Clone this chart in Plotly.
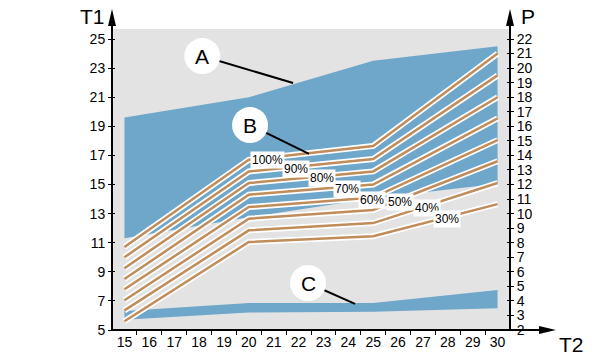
import numpy as np
import plotly.graph_objects as go

# ---------------- data ----------------
t2 = [15, 20, 25, 30]

area_a_top = [19.6, 21.0, 23.5, 24.5]
area_a_bottom = [11.3, 12.75, 14.05, 15.05]

area_c_top = [6.3, 6.85, 6.85, 7.75]
area_c_bottom = [5.7, 6.2, 6.25, 6.5]

line_names = ["100%", "90%", "80%", "70%", "60%", "50%", "40%", "30%"]
line_100 = [10.7, 16.7, 17.65, 24.0]
line_90 = [10.0, 15.9, 16.75, 22.5]
line_80 = [9.25, 15.1, 15.9, 21.0]
line_70 = [8.5, 14.3, 15.0, 19.55]
line_60 = [7.8, 13.45, 14.1, 18.05]
line_50 = [7.05, 12.65, 13.25, 16.6]
line_40 = [6.35, 11.85, 12.35, 15.1]
line_30 = [5.6, 11.05, 11.45, 13.65]
lines = [line_100, line_90, line_80, line_70, line_60, line_50, line_40, line_30]
label_x = [20.74, 21.9, 22.94, 23.94, 24.95, 26.07, 27.15, 27.96]

t1_ticks = [5, 7, 9, 11, 13, 15, 17, 19, 21, 23, 25]
p_ticks = list(range(2, 23))
t2_ticks = list(range(15, 31))
t2_minor = [v + 0.5 for v in range(15, 30)]

# ---------------- style ----------------
FONT = "Liberation Sans, Arial, Helvetica, sans-serif"
BLUE = "rgb(111,167,202)"
GRAY = "rgb(227,227,227)"
BROWN = "rgb(192,140,90)"

W, H = 615, 360
ML, MR, MT, MB = 112, 105, 29, 30
PW, PH = W - ML - MR, H - MT - MB
T1_RANGE = [5, 25.69]
P_RANGE = [2, 22.69]
T2_RANGE = [14.5, 30.5]

fig = go.Figure()

# area A
fig.add_trace(go.Scatter(
    x=t2 + t2[::-1], y=area_a_top + area_a_bottom[::-1],
    fill="toself", fillcolor=BLUE, line=dict(width=0), mode="lines",
    hoverinfo="skip", showlegend=False))
# area C
fig.add_trace(go.Scatter(
    x=t2 + t2[::-1], y=area_c_top + area_c_bottom[::-1],
    fill="toself", fillcolor=BLUE, line=dict(width=0), mode="lines",
    hoverinfo="skip", showlegend=False))

for ys in lines:
    fig.add_trace(go.Scatter(x=t2, y=ys, mode="lines",
                             line=dict(color="white", width=6),
                             hoverinfo="skip", showlegend=False))
    fig.add_trace(go.Scatter(x=t2, y=ys, mode="lines",
                             line=dict(color=BROWN, width=2.5),
                             hoverinfo="skip", showlegend=False))

# empty traces so that the helper axes get drawn
fig.add_trace(go.Scatter(x=[None], y=[None], yaxis="y2", showlegend=False))
fig.add_trace(go.Scatter(x=[None], y=[None], yaxis="y3", showlegend=False))
fig.add_trace(go.Scatter(x=[None], y=[None], yaxis="y4", showlegend=False))
fig.add_trace(go.Scatter(x=[None], y=[None], xaxis="x2", showlegend=False))

annotations = []
for name, ys, lx in zip(line_names, lines, label_x):
    ly = float(np.interp(lx, t2, ys))
    annotations.append(dict(x=lx, y=ly, text=name, showarrow=False,
                            bgcolor="white", borderpad=1, yshift=-2,
                            font=dict(family=FONT, size=12, color="black")))

# callouts
callouts = [("A", 18.13, 23.83, 21.78, 21.98),
            ("B", 20.05, 19.09, 22.42, 17.1),
            ("C", 22.38, 8.23, 24.27, 6.8)]
shapes = []
for letter, cx, cy, ex, ey in callouts:
    shapes.append(dict(type="line", x0=cx, y0=cy, x1=ex, y1=ey,
                       xref="x", yref="y", line=dict(color="black", width=2)))
for letter, cx, cy, ex, ey in callouts:
    shapes.append(dict(type="circle", xref="x", yref="y",
                       xsizemode="pixel", ysizemode="pixel",
                       xanchor=cx, yanchor=cy, x0=-18, x1=18, y0=-18, y1=18,
                       fillcolor="white", line=dict(width=0)))
    annotations.append(dict(x=cx, y=cy, text=letter, showarrow=False,
                            font=dict(family=FONT, size=21, color="black")))


def px(xp):
    return (xp - ML) / PW


def py(yp):
    return (MT + PH - yp) / PH


# axes with arrows
axis_col = "black"
shapes += [
    dict(type="line", xref="paper", yref="paper", x0=px(112), x1=px(112),
         y0=py(331), y1=py(20), line=dict(color=axis_col, width=2)),
    dict(type="path", xref="paper", yref="paper",
         path=f"M {px(108)},{py(26)} L {px(112)},{py(9)} L {px(116)},{py(26)} Z",
         fillcolor=axis_col, line=dict(width=0)),
    dict(type="line", xref="paper", yref="paper", x0=px(510), x1=px(510),
         y0=py(331), y1=py(20), line=dict(color=axis_col, width=2)),
    dict(type="path", xref="paper", yref="paper",
         path=f"M {px(506)},{py(26)} L {px(510)},{py(9)} L {px(514)},{py(26)} Z",
         fillcolor=axis_col, line=dict(width=0)),
    dict(type="line", xref="paper", yref="paper", x0=px(111), x1=px(545),
         y0=py(330), y1=py(330), line=dict(color=axis_col, width=2)),
    dict(type="path", xref="paper", yref="paper",
         path=f"M {px(539)},{py(326)} L {px(556)},{py(330)} L {px(539)},{py(334)} Z",
         fillcolor=axis_col, line=dict(width=0)),
]

title_font = dict(family=FONT, size=21, color="black")
annotations += [
    dict(xref="paper", yref="paper", x=px(92), y=py(17), text="T1",
         xanchor="center", yanchor="middle", showarrow=False, font=title_font),
    dict(xref="paper", yref="paper", x=px(528), y=py(17), text="P",
         xanchor="center", yanchor="middle", showarrow=False, font=title_font),
    dict(xref="paper", yref="paper", x=px(571), y=py(344), text="T2",
         xanchor="center", yanchor="middle", showarrow=False, font=title_font),
]

tickfont = dict(family=FONT, size=14, color="black")
common = dict(showgrid=False, zeroline=False, showline=False,
              tickcolor="black", tickwidth=1)
fig.update_layout(
    width=W, height=H,
    margin=dict(l=ML, r=MR, t=MT, b=MB, autoexpand=False),
    paper_bgcolor="white", plot_bgcolor=GRAY,
    xaxis=dict(range=T2_RANGE, tickvals=t2_ticks, ticks="",
               tickfont=tickfont, ticklabelstandoff=2, **common),
    xaxis2=dict(range=T2_RANGE, tickvals=t2_minor, ticks="outside",
                ticklen=4, showticklabels=False, overlaying="x",
                anchor="y", side="bottom", **common),
    yaxis=dict(range=T1_RANGE, tickvals=t1_ticks, ticks="outside",
               ticklen=3, tickfont=tickfont, **common),
    yaxis3=dict(range=T1_RANGE, tickvals=t1_ticks, ticks="inside",
                ticklen=3, showticklabels=False, overlaying="y",
                anchor="x", side="left", **common),
    yaxis2=dict(range=P_RANGE, tickvals=p_ticks, ticks="outside",
                ticklen=3, overlaying="y", side="right", anchor="x",
                tickfont=tickfont, **common),
    yaxis4=dict(range=P_RANGE, tickvals=p_ticks, ticks="inside",
                ticklen=3, showticklabels=False, overlaying="y",
                anchor="x", side="right", **common),
    shapes=shapes,
    annotations=annotations,
)

fig.write_html("out.html", config={"displayModeBar": False},
               post_script="document.body.style.margin='0';")
